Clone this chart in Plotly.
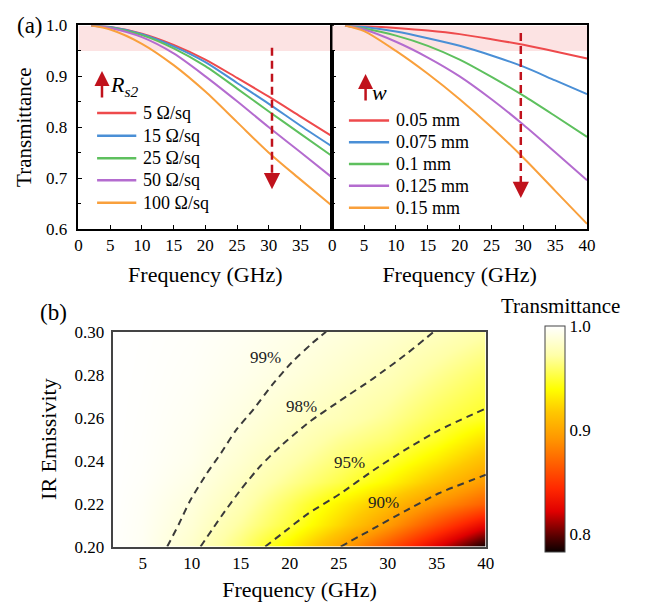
import plotly.graph_objects as go

# ---------------- data ----------------
freq = [2, 5, 10, 15, 20, 25, 30, 35, 40]

rs2_labels = ["5 Ω/sq", "15 Ω/sq", "25 Ω/sq", "50 Ω/sq", "100 Ω/sq"]
T_rs2 = [
    [1.000, 0.997, 0.984, 0.962, 0.933, 0.897, 0.860, 0.821, 0.782],
    [1.000, 0.997, 0.983, 0.959, 0.928, 0.887, 0.846, 0.803, 0.762],
    [1.000, 0.996, 0.981, 0.955, 0.920, 0.876, 0.831, 0.787, 0.743],
    [1.000, 0.995, 0.977, 0.945, 0.900, 0.851, 0.800, 0.751, 0.701],
    [1.000, 0.992, 0.964, 0.922, 0.870, 0.810, 0.750, 0.697, 0.645],
]

w_labels = ["0.05 mm", "0.075 mm", "0.1 mm", "0.125 mm", "0.15 mm"]
T_w = [
    [1.000, 0.999, 0.995, 0.990, 0.983, 0.973, 0.962, 0.949, 0.935],
    [1.000, 0.997, 0.988, 0.975, 0.960, 0.941, 0.919, 0.892, 0.865],
    [1.000, 0.994, 0.980, 0.960, 0.933, 0.899, 0.862, 0.822, 0.781],
    [1.000, 0.992, 0.968, 0.937, 0.900, 0.855, 0.805, 0.751, 0.696],
    [1.000, 0.989, 0.950, 0.905, 0.855, 0.800, 0.740, 0.675, 0.610],
]

line_colors = ["#ee4a4c", "#4a8fd6", "#5ec05e", "#b46ccf", "#f9a03c"]

# heat map (b)
map_freq = [2, 5, 10, 15, 20, 25, 30, 35, 40]
map_emis = [0.20, 0.21, 0.22, 0.23, 0.24, 0.25, 0.26, 0.28, 0.30]
map_T = [
    [0.999, 0.996, 0.983, 0.962, 0.934, 0.900, 0.862, 0.822, 0.783],
    [0.9993, 0.9965, 0.9865, 0.970, 0.951, 0.924, 0.895, 0.860, 0.826],
    [0.9995, 0.997, 0.989, 0.976, 0.957, 0.935, 0.913, 0.890, 0.868],
    [0.9997, 0.998, 0.992, 0.981, 0.9675, 0.954, 0.937, 0.915, 0.894],
    [0.9998, 0.9985, 0.994, 0.985, 0.974, 0.962, 0.950, 0.932, 0.911],
    [0.9999, 0.9988, 0.995, 0.988, 0.980, 0.969, 0.961, 0.947, 0.928],
    [0.9999, 0.999, 0.996, 0.9905, 0.9835, 0.977, 0.968, 0.956, 0.946],
    [0.9999, 0.9993, 0.9975, 0.994, 0.9895, 0.984, 0.978, 0.968, 0.958],
    [1.000, 0.9995, 0.9984, 0.9962, 0.993, 0.9893, 0.985, 0.9797, 0.973],
]

# contour lines (frequency, emissivity)
contours = {
    "99%": ([7.5, 8.7, 9.8, 11.5, 13.0, 14.5, 16.3, 18.2, 20.2, 22.3, 23.7],
            [0.200, 0.2106, 0.2211, 0.2338, 0.2436, 0.2541, 0.2639, 0.2752, 0.2857, 0.2947, 0.3000]),
    "98%": ([10.9, 13.0, 15.0, 17.0, 19.0, 22.0, 25.0, 28.5, 31.8, 34.7],
            [0.200, 0.2140, 0.2265, 0.2375, 0.2465, 0.2580, 0.2675, 0.2782, 0.2893, 0.3000]),
    "95%": ([17.5, 19.2, 21.8, 25.2, 28.5, 31.8, 35.2, 40.0],
            [0.200, 0.206, 0.2151, 0.2248, 0.2354, 0.2451, 0.2541, 0.2643]),
    "90%": ([25.2, 28.5, 31.8, 35.2, 40.0],
            [0.200, 0.2083, 0.2166, 0.2248, 0.2334]),
}
contour_label_pos = {"99%": (17.5, 0.2880), "98%": (21.2, 0.2654),
                     "95%": (26.1, 0.2391), "90%": (29.6, 0.2203)}

# ---------------- figure ----------------
W, H = 647, 615
FONT = "Liberation Serif, Times New Roman, serif"
ARROW_RED = "#c0121c"


def px(x):
    return x / W


def py(y):
    return 1 - y / H


fig = go.Figure()

for name, ys, c in zip(rs2_labels, T_rs2, line_colors):
    fig.add_trace(go.Scatter(x=freq, y=ys, name=name, mode="lines", showlegend=False,
                             line=dict(color=c, width=2, shape="spline", smoothing=0.8),
                             xaxis="x", yaxis="y"))
for name, ys, c in zip(w_labels, T_w, line_colors):
    fig.add_trace(go.Scatter(x=freq, y=ys, name=name, mode="lines", showlegend=False,
                             line=dict(color=c, width=2, shape="spline", smoothing=0.8),
                             xaxis="x2", yaxis="y2"))

colorscale = [[0.0, "#0a0000"], [0.07, "#580000"], [0.18, "#e00000"], [0.28, "#ff2800"],
              [0.5, "#ff9600"], [0.62, "#ffc800"], [0.72, "#ffff00"], [0.87, "#ffffa8"],
              [1.0, "#ffffff"]]

fig.add_trace(go.Heatmap(x=map_freq, y=map_emis, z=map_T, zsmooth="best",
                         colorscale=colorscale, zmin=0.783, zmax=1.0,
                         xaxis="x3", yaxis="y3", showlegend=False,
                         colorbar=dict(x=px(551.7), xanchor="left", xpad=0,
                                       y=py(443.7), yanchor="middle", ypad=0,
                                       len=226, lenmode="pixels", thickness=20,
                                       outlinecolor="#444444", outlinewidth=1,
                                       tickvals=[0.8, 0.9, 1.0], ticktext=["0.8", "0.9", "1.0"],
                                       ticks="", tickfont=dict(family=FONT, size=17, color="black"))))

for lab, (cf, ce) in contours.items():
    fig.add_trace(go.Scatter(x=cf, y=ce, mode="lines", showlegend=False, name=lab,
                             line=dict(color="#3a3a3a", width=2, dash="7px,5px",
                                       shape="spline", smoothing=0.6),
                             xaxis="x3", yaxis="y3", hoverinfo="skip"))

tickfont = dict(family=FONT, size=17, color="black")
titlefont = dict(family=FONT, size=22, color="black")

top_y = [py(227), py(17)]
xl = [px(76), px(335)]
xr = [px(335), px(595)]

common_top_x = dict(range=[0, 40], showline=True, linecolor="black", linewidth=1.5,
                    mirror=True, ticks="inside", ticklen=4, tickcolor="black",
                    tickfont=tickfont, showgrid=False, zeroline=False,
                    title=dict(text="Frequency (GHz)", font=titlefont, standoff=12))

fig.update_layout(
    width=W, height=H, margin=dict(l=0, r=0, t=0, b=0),
    paper_bgcolor="white", plot_bgcolor="white",
    font=dict(family=FONT, color="black"),
    showlegend=False,
    xaxis=dict(common_top_x, domain=xl, anchor="y", tickvals=[0, 5, 10, 15, 20, 25, 30, 35, 40],
               ticktext=["0", "5", "10", "15", "20", "25", "30", "35", ""]),
    xaxis2=dict(common_top_x, domain=xr, anchor="y2", tickvals=[0, 5, 10, 15, 20, 25, 30, 35, 40]),
    yaxis=dict(domain=top_y, anchor="x", range=[0.6, 1.0], tickvals=[0.6, 0.7, 0.8, 0.9, 1.0],
               tickformat=".1f", showline=True, linecolor="black", linewidth=1.5, mirror=True,
               ticks="inside", ticklen=4, tickcolor="black", ticklabelstandoff=6,
               minor=dict(ticks="inside", dtick=0.05, ticklen=3, tickcolor="black", showgrid=False),
               tickfont=tickfont, showgrid=False, zeroline=False,
               title=dict(text="Transmittance", font=dict(family=FONT, size=21, color="black"),
                          standoff=9)),
    yaxis2=dict(domain=top_y, anchor="x2", range=[0.6, 1.0], tickvals=[0.6, 0.7, 0.8, 0.9, 1.0],
                showticklabels=False, showline=True, linecolor="black", linewidth=1.5, mirror=True,
                ticks="inside", ticklen=4, tickcolor="black",
                minor=dict(ticks="inside", dtick=0.05, ticklen=3, tickcolor="black", showgrid=False),
                showgrid=False, zeroline=False),
    xaxis3=dict(domain=[px(111.6), px(491.7)], anchor="y3", range=[2, 40],
                tickvals=[5, 10, 15, 20, 25, 30, 35, 40], ticks="", showline=True,
                linecolor="#444444", linewidth=1.5, mirror=True, tickfont=tickfont,
                showgrid=False, zeroline=False,
                title=dict(text="Frequency (GHz)", font=titlefont, standoff=10)),
    yaxis3=dict(domain=[py(554.7), py(333)], anchor="x3", range=[0.2, 0.3],
                tickvals=[0.20, 0.22, 0.24, 0.26, 0.28, 0.30], tickformat=".2f", ticks="",
                showline=True, linecolor="#444444", linewidth=1.5, mirror=True,
                tickfont=tickfont, showgrid=False, zeroline=False, ticklabelstandoff=4,
                title=dict(text="IR Emissivity", font=titlefont, standoff=12)),
)

shapes = []
ann = []
# pink band T >= 0.95 in both panels
for xa, ya in (("x", "y"), ("x2", "y2")):
    shapes.append(dict(type="rect", xref=xa, yref=ya, x0=0, x1=40, y0=0.95, y1=1.0,
                       fillcolor="#fce3e3", line=dict(width=0), layer="below"))
# dashed red trend arrows (shaft)
shapes.append(dict(type="line", xref="x", yref="y", x0=30.5, x1=30.5, y0=0.956, y1=0.70,
                   line=dict(color=ARROW_RED, width=2.5, dash="8px,5px")))
shapes.append(dict(type="line", xref="x2", yref="y2", x0=29.6, x1=29.6, y0=0.985, y1=0.683,
                   line=dict(color=ARROW_RED, width=2.5, dash="8px,5px")))

# legends drawn as line samples + labels
legend_specs = [
    (rs2_labels, 95, 135, 140, [107.3, 130.7, 154.0, 176.7, 200.0]),
    (w_labels, 352, 393, 398, [115.0, 137.5, 160.0, 182.5, 205.0]),
]
for labels, lx0, lx1, tx, rows in legend_specs:
    for lab, c, ry in zip(labels, line_colors, rows):
        shapes.append(dict(type="line", xref="paper", yref="paper", x0=px(lx0), x1=px(lx1),
                           y0=py(ry), y1=py(ry), line=dict(color=c, width=2.5)))
        ann.append(dict(xref="paper", yref="paper", x=px(tx), y=py(ry), text=lab,
                        showarrow=False, xanchor="left", yanchor="middle",
                        font=dict(family=FONT, size=18, color="black")))
fig.update_layout(shapes=shapes)

# arrow heads
ann.append(dict(xref="x", yref="y", x=30.5, y=0.678, ax=0, ay=-14, text="", showarrow=True,
                arrowhead=2, arrowsize=1.3, arrowwidth=2.5, arrowcolor=ARROW_RED))
ann.append(dict(xref="x2", yref="y2", x=29.6, y=0.661, ax=0, ay=-14, text="", showarrow=True,
                arrowhead=2, arrowsize=1.3, arrowwidth=2.5, arrowcolor=ARROW_RED))
# legend-title arrows
ann.append(dict(xref="paper", yref="paper", x=px(100), y=py(64), ax=0, ay=28, text="",
                showarrow=True, arrowhead=2, arrowsize=1.2, arrowwidth=2.5, arrowcolor=ARROW_RED))
ann.append(dict(xref="paper", yref="paper", x=px(106), y=py(79), xanchor="left", yanchor="middle",
                text="<i>R</i><sub><i>s2</i></sub>", showarrow=False,
                font=dict(family=FONT, size=22, color="black")))
ann.append(dict(xref="paper", yref="paper", x=px(369), y=py(67), ax=0, ay=28, text="",
                showarrow=True, arrowhead=2, arrowsize=1.2, arrowwidth=2.5, arrowcolor=ARROW_RED))
ann.append(dict(xref="paper", yref="paper", x=px(374), y=py(86), xanchor="left", yanchor="middle",
                text="<i>w</i>", showarrow=False, font=dict(family=FONT, size=22, color="black")))
# panel labels
ann.append(dict(xref="paper", yref="paper", x=px(27), y=py(17), text="(a)", showarrow=False,
                xanchor="center", yanchor="middle", font=dict(family=FONT, size=23, color="black")))
ann.append(dict(xref="paper", yref="paper", x=px(51), y=py(313), text="(b)", showarrow=False,
                xanchor="center", yanchor="middle", font=dict(family=FONT, size=23, color="black")))
# colorbar title
ann.append(dict(xref="paper", yref="paper", x=px(568), y=py(306), text="Transmittance",
                showarrow=False, xanchor="center", yanchor="middle",
                font=dict(family=FONT, size=21, color="black")))
# contour labels
for lab, (lx, ly) in contour_label_pos.items():
    ann.append(dict(xref="x3", yref="y3", x=lx, y=ly, text=lab, showarrow=False,
                    font=dict(family=FONT, size=17, color="#222222")))
fig.update_layout(annotations=ann)

fig.write_html("out.html")
